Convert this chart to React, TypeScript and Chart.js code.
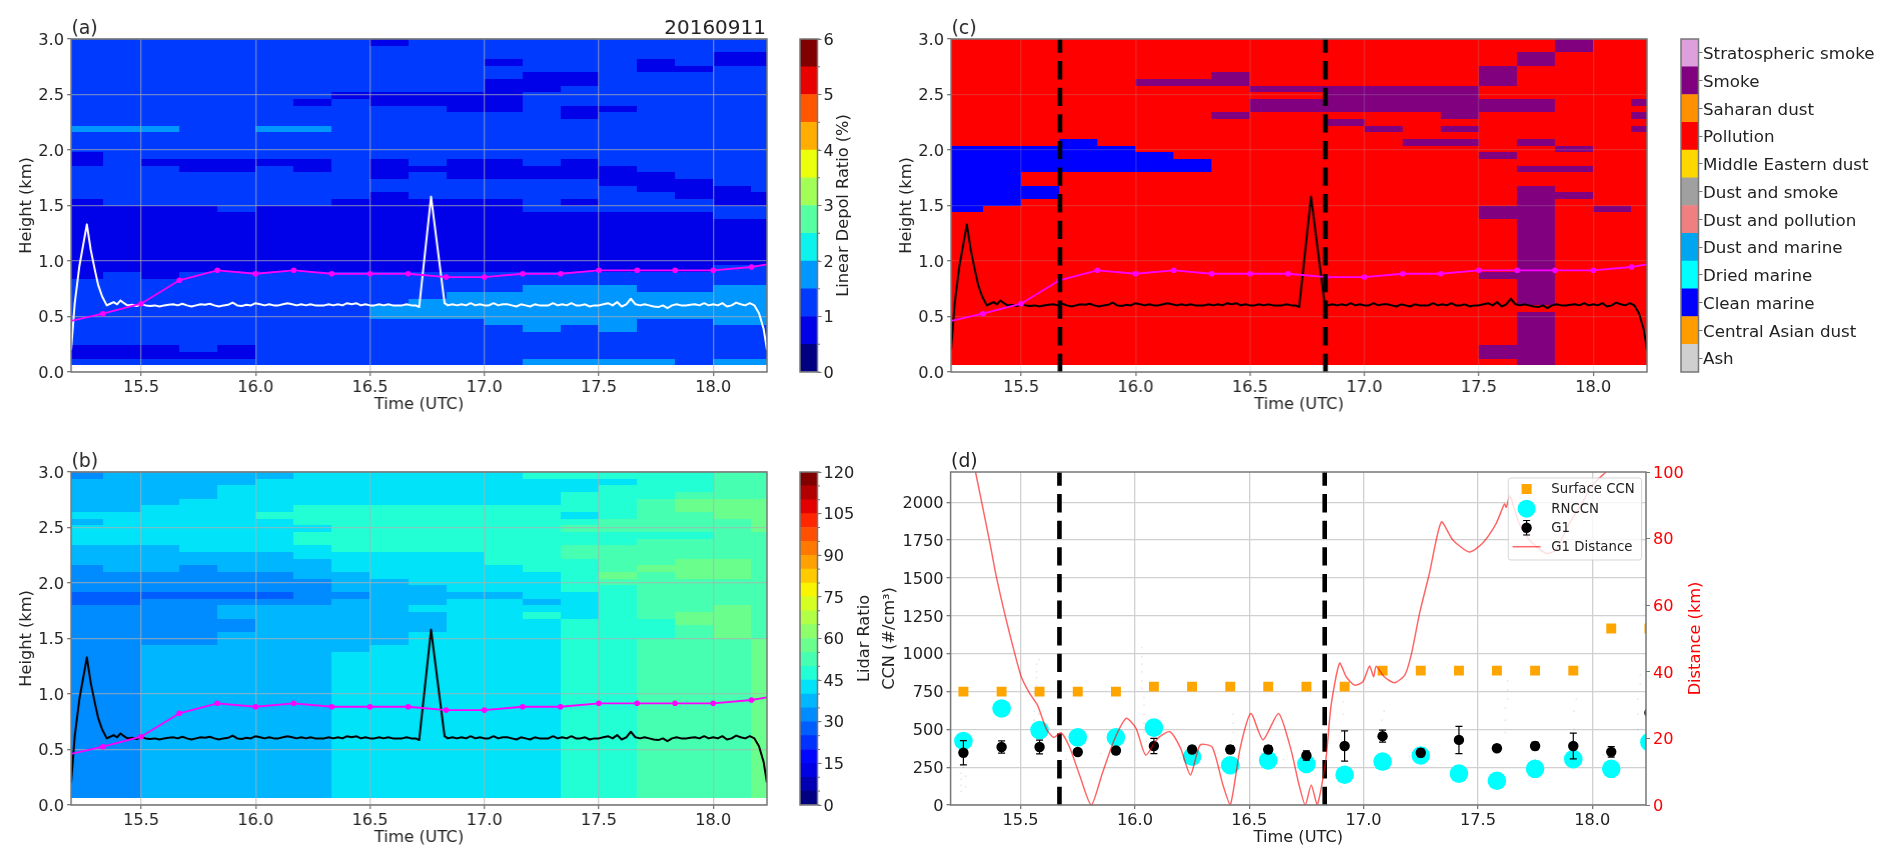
import { useEffect, useRef } from 'react';
import { Chart, registerables } from 'chart.js';
Chart.register(...registerables);

// ---------- shared values ----------
const columnEdges = [15.194, 15.333, 15.5, 15.667, 15.833, 16, 16.167, 16.333, 16.5, 16.667, 16.833, 17, 17.167, 17.333, 17.5, 17.667, 17.833, 18, 18.167, 18.235];
const timeTicks = [15.5, 16, 16.5, 17, 17.5, 18];
const heightTicks = [0, 0.5, 1, 1.5, 2, 2.5, 3];
const eventTimes = [15.67, 16.83];

const mixTime = [15.194, 15.333, 15.5, 15.667, 15.833, 16, 16.167, 16.333, 16.5, 16.667, 16.833, 17, 17.167, 17.333, 17.5, 17.667, 17.833, 18, 18.167, 18.235];
const mixHeight = [0.46, 0.525, 0.615, 0.826, 0.916, 0.885, 0.916, 0.885, 0.885, 0.885, 0.855, 0.855, 0.885, 0.885, 0.916, 0.916, 0.916, 0.916, 0.946, 0.97];

const pblTime = [
  15.194, 15.21, 15.23, 15.263, 15.28, 15.3, 15.313, 15.33, 15.35, 15.365,
  15.38, 15.395, 15.41, 15.425, 15.44, 15.46, 15.48, 15.5, 15.52, 15.54,
  15.56, 15.58, 15.6, 15.62, 15.64, 15.66, 15.68, 15.7, 15.72, 15.74,
  15.76, 15.78, 15.8, 15.82, 15.84, 15.86, 15.88, 15.9, 15.92, 15.94,
  15.96, 15.98, 16, 16.02, 16.04, 16.06, 16.08, 16.1, 16.12, 16.14,
  16.16, 16.18, 16.2, 16.22, 16.24, 16.26, 16.28, 16.3, 16.32, 16.34,
  16.36, 16.38, 16.4, 16.42, 16.44, 16.46, 16.48, 16.5, 16.52, 16.54,
  16.56, 16.58, 16.6, 16.62, 16.64, 16.66, 16.68, 16.7, 16.715, 16.767,
  16.826, 16.84, 16.86, 16.88, 16.9, 16.92, 16.94, 16.96, 16.98, 17,
  17.02, 17.04, 17.06, 17.08, 17.1, 17.12, 17.14, 17.16, 17.18, 17.2,
  17.22, 17.24, 17.26, 17.28, 17.3, 17.32, 17.34, 17.36, 17.38, 17.4,
  17.42, 17.44, 17.46, 17.48, 17.5, 17.52, 17.54, 17.56, 17.58, 17.6,
  17.62, 17.64, 17.66, 17.68, 17.7, 17.72, 17.74, 17.76, 17.78, 17.8,
  17.82, 17.84, 17.86, 17.88, 17.9, 17.92, 17.94, 17.96, 17.98, 18,
  18.02, 18.04, 18.06, 18.08, 18.1, 18.12, 18.14, 18.16, 18.18, 18.2,
  18.22, 18.235,
];
const pblHeight = [
  0.2, 0.62, 0.95, 1.33, 1.1, 0.9, 0.78, 0.68, 0.6, 0.615,
  0.63, 0.61, 0.645, 0.62, 0.6, 0.605, 0.595, 0.61, 0.6, 0.595,
  0.6, 0.59, 0.6, 0.605, 0.61, 0.6, 0.615, 0.6, 0.59, 0.6,
  0.61, 0.605, 0.615, 0.6, 0.59, 0.6, 0.605, 0.625, 0.6, 0.595,
  0.605, 0.6, 0.62, 0.61, 0.6, 0.61, 0.6, 0.6, 0.61, 0.62,
  0.61, 0.6, 0.61, 0.6, 0.61, 0.6, 0.6, 0.6, 0.61, 0.6,
  0.61, 0.6, 0.62, 0.61, 0.62, 0.6, 0.61, 0.6, 0.6, 0.61,
  0.6, 0.61, 0.6, 0.6, 0.6, 0.61, 0.6, 0.6, 0.585, 1.58,
  0.62, 0.6, 0.61, 0.6, 0.61, 0.6, 0.62, 0.6, 0.61, 0.6,
  0.6, 0.62, 0.6, 0.61, 0.61, 0.6, 0.59, 0.61, 0.6, 0.59,
  0.61, 0.6, 0.6, 0.6, 0.62, 0.6, 0.61, 0.6, 0.62, 0.6,
  0.6, 0.61, 0.59, 0.6, 0.6, 0.61, 0.62, 0.6, 0.63, 0.59,
  0.61, 0.66, 0.61, 0.6, 0.61, 0.6, 0.59, 0.585, 0.6, 0.575,
  0.6, 0.61, 0.6, 0.6, 0.605, 0.61, 0.6, 0.62, 0.6, 0.61,
  0.6, 0.62, 0.59, 0.6, 0.625, 0.61, 0.6, 0.62, 0.6, 0.53,
  0.39, 0.2,
];

// ---------- panel (a) linear depolarisation ratio: [firstCol, endCol, low km, high km, colour level] ----------
const depolBaseLevel = 2;
const depolPatches = [
  [0, 1, 0.84, 1.56, 1], [1, 2, 0.9, 1.5, 1], [2, 3, 0.84, 1.5, 1], [3, 4, 0.9, 1.5, 1], [4, 5, 0.9, 1.44, 1],
  [5, 7, 0.9, 1.5, 1], [7, 8, 0.9, 1.56, 1], [8, 9, 0.9, 1.62, 1], [9, 12, 0.9, 1.56, 1], [12, 13, 0.9, 1.44, 1],
  [13, 14, 0.9, 1.44, 1], [13, 14, 1.5, 1.56, 1], [14, 17, 0.9, 1.44, 1], [17, 19, 0.96, 1.38, 1],
  [0, 3, 2.16, 2.22, 3], [5, 7, 2.16, 2.22, 3],
  [6, 7, 2.4, 2.46, 1], [7, 8, 2.46, 2.52, 1], [8, 10, 2.4, 2.52, 1], [10, 11, 2.34, 2.52, 1], [11, 12, 2.34, 2.64, 1],
  [12, 13, 2.52, 2.7, 1], [13, 14, 2.58, 2.7, 1], [8, 9, 2.94, 3, 1], [11, 12, 2.76, 2.82, 1],
  [15, 16, 2.7, 2.82, 1], [16, 17, 2.7, 2.76, 1], [17, 19, 2.76, 2.88, 1], [13, 14, 2.28, 2.4, 1], [14, 15, 2.34, 2.4, 1],
  [0, 1, 1.86, 1.98, 1], [2, 3, 1.86, 1.92, 1], [3, 5, 1.8, 1.92, 1], [5, 6, 1.86, 1.92, 1], [6, 7, 1.8, 1.92, 1],
  [8, 9, 1.74, 1.92, 1], [9, 10, 1.8, 1.86, 1], [10, 12, 1.74, 1.92, 1], [12, 13, 1.74, 1.86, 1], [13, 14, 1.74, 1.92, 1],
  [14, 15, 1.68, 1.86, 1], [15, 16, 1.62, 1.8, 1], [16, 17, 1.56, 1.74, 1], [17, 18, 1.5, 1.68, 1], [18, 19, 1.5, 1.62, 1],
  [8, 9, 0.48, 0.6, 3], [9, 10, 0.48, 0.66, 3], [10, 11, 0.48, 0.72, 3], [11, 12, 0.42, 0.72, 3], [12, 13, 0.36, 0.78, 3],
  [13, 14, 0.42, 0.78, 3], [14, 15, 0.36, 0.78, 3], [15, 17, 0.48, 0.72, 3], [17, 19, 0.42, 0.78, 3],
  [0, 3, 0.12, 0.24, 1], [3, 4, 0.12, 0.18, 1], [4, 5, 0.12, 0.24, 1],
  [12, 16, 0.06, 0.12, 3], [17, 19, 0.06, 0.12, 3],
];

// ---------- panel (b) lidar ratio: one list per column of [low km, high km, colour bin] ----------
const lidarColumns = [
  [[0.06, 1.8, 6], [1.8, 1.92, 5], [1.92, 2.16, 6], [2.16, 2.34, 7], [2.34, 2.52, 8], [2.52, 2.58, 7], [2.58, 2.64, 8], [2.64, 2.94, 7], [2.94, 3, 6]],
  [[0.06, 1.8, 6], [1.8, 1.92, 5], [1.92, 2.1, 6], [2.1, 2.34, 7], [2.34, 2.64, 8], [2.64, 3, 7]],
  [[0.06, 1.44, 7], [1.44, 1.86, 6], [1.86, 1.92, 5], [1.92, 2.1, 6], [2.1, 2.34, 7], [2.34, 2.7, 8], [2.7, 3, 7]],
  [[0.06, 1.44, 7], [1.44, 1.86, 6], [1.86, 1.92, 5], [1.92, 2.16, 6], [2.16, 2.28, 7], [2.28, 2.76, 8], [2.76, 3, 7]],
  [[0.06, 1.56, 7], [1.56, 1.68, 6], [1.68, 1.8, 7], [1.8, 1.86, 6], [1.86, 1.92, 5], [1.92, 2.1, 6], [2.1, 2.28, 7], [2.28, 2.88, 8], [2.88, 3, 7]],
  [[0.06, 1.8, 7], [1.8, 1.86, 6], [1.86, 1.92, 5], [1.92, 2.1, 6], [2.1, 2.28, 7], [2.28, 2.58, 8], [2.58, 2.64, 9], [2.64, 2.94, 8], [2.94, 3, 7]],
  [[0.06, 1.8, 7], [1.8, 2.04, 6], [2.04, 2.22, 7], [2.22, 2.34, 8], [2.34, 2.46, 9], [2.46, 2.52, 8], [2.52, 2.7, 9], [2.7, 3, 8]],
  [[0.06, 1.38, 8], [1.38, 1.86, 7], [1.86, 1.92, 6], [1.92, 2.1, 7], [2.1, 2.28, 8], [2.28, 2.7, 9], [2.7, 3, 8]],
  [[0.06, 1.44, 8], [1.44, 2.04, 7], [2.04, 2.28, 8], [2.28, 2.7, 9], [2.7, 3, 8]],
  [[0.06, 1.56, 8], [1.56, 1.74, 7], [1.74, 1.8, 8], [1.8, 1.98, 7], [1.98, 2.28, 8], [2.28, 2.7, 9], [2.7, 3, 8]],
  [[0.06, 1.86, 8], [1.86, 1.92, 7], [1.92, 2.28, 8], [2.28, 2.7, 9], [2.7, 3, 8]],
  [[0.06, 1.86, 8], [1.86, 1.92, 7], [1.92, 2.16, 8], [2.16, 2.7, 9], [2.7, 3, 8]],
  [[0.06, 1.68, 8], [1.68, 1.74, 9], [1.74, 1.8, 8], [1.8, 1.86, 7], [1.86, 2.1, 8], [2.1, 2.7, 9], [2.7, 2.94, 8], [2.94, 3, 9]],
  [[0.06, 1.68, 9], [1.68, 1.92, 8], [1.92, 2.22, 9], [2.22, 2.34, 10], [2.34, 2.46, 9], [2.46, 2.52, 10], [2.52, 2.58, 9], [2.58, 2.64, 8], [2.64, 2.82, 9], [2.82, 2.94, 8], [2.94, 3, 9]],
  [[0.06, 1.98, 9], [1.98, 2.04, 10], [2.04, 2.1, 11], [2.1, 2.34, 10], [2.34, 2.46, 9], [2.46, 2.58, 10], [2.58, 2.88, 9], [2.88, 2.94, 8], [2.94, 3, 9]],
  [[0.06, 1.5, 10], [1.5, 1.68, 9], [1.68, 2.1, 10], [2.1, 2.16, 11], [2.16, 2.4, 10], [2.4, 2.46, 9], [2.46, 2.76, 10], [2.76, 3, 9]],
  [[0.06, 1.62, 10], [1.62, 1.74, 11], [1.74, 2.04, 10], [2.04, 2.22, 11], [2.22, 2.4, 10], [2.4, 2.46, 9], [2.46, 2.64, 10], [2.64, 2.76, 11], [2.76, 2.82, 10], [2.82, 3, 9]],
  [[0.06, 1.5, 10], [1.5, 1.8, 11], [1.8, 2.04, 10], [2.04, 2.22, 11], [2.22, 2.58, 10], [2.58, 2.76, 11], [2.76, 3, 10]],
  [[0.06, 1.5, 11], [1.5, 2.46, 10], [2.46, 2.76, 11], [2.76, 3, 10]],
];

// ---------- panel (c) aerosol classes: [firstCol, endCol, low km, high km, class index] ----------
const classLabels = ['Ash', 'Central Asian dust', 'Clean marine', 'Dried marine', 'Dust and marine', 'Dust and pollution', 'Dust and smoke', 'Middle Eastern dust', 'Pollution', 'Saharan dust', 'Smoke', 'Stratospheric smoke'];
const classColors = ['#cfcfcf', '#ff9d00', '#0000ff', '#00ffff', '#00a5f0', '#f08080', '#a0a0a0', '#ffd700', '#ff0000', '#ff9000', '#800080', '#dda0dd'];
const classBase = 8;
const classPatches = [
  [0, 1, 1.44, 2.04, 2], [1, 2, 1.5, 2.04, 2], [2, 3, 1.8, 2.04, 2], [2, 3, 1.56, 1.68, 2], [3, 4, 1.8, 2.1, 2], [4, 5, 1.8, 2.04, 2], [5, 6, 1.8, 1.98, 2], [6, 7, 1.8, 1.92, 2],
  [5, 7, 2.58, 2.64, 10], [7, 8, 2.58, 2.7, 10], [7, 8, 2.28, 2.34, 10], [8, 10, 2.52, 2.58, 10], [8, 10, 2.34, 2.46, 10],
  [10, 13, 2.34, 2.58, 10], [13, 14, 2.28, 2.58, 10], [10, 11, 2.22, 2.28, 10], [11, 12, 2.16, 2.22, 10], [13, 14, 2.16, 2.22, 10], [12, 14, 2.04, 2.1, 10],
  [14, 15, 2.58, 2.76, 10], [14, 16, 2.34, 2.46, 10], [14, 15, 1.92, 1.98, 10], [14, 15, 1.38, 1.5, 10], [14, 15, 0.84, 0.9, 10], [14, 15, 0.12, 0.24, 10],
  [15, 16, 2.76, 2.88, 10], [15, 16, 2.04, 2.1, 10], [15, 17, 1.8, 1.86, 10], [15, 16, 0.6, 1.68, 10], [15, 16, 0.06, 0.54, 10],
  [16, 17, 2.88, 3, 10], [16, 17, 1.98, 2.04, 10], [16, 17, 1.56, 1.62, 10], [17, 18, 1.44, 1.5, 10],
  [18, 19, 2.4, 2.46, 10], [18, 19, 2.28, 2.34, 10], [18, 19, 2.16, 2.22, 10],
];

// ---------- panel (d) CCN ----------
const ccnTicks = [0, 250, 500, 750, 1000, 1250, 1500, 1750, 2000];
const distanceTicks = [0, 20, 40, 60, 80, 100];
const sampleTime = [15.25, 15.417, 15.583, 15.75, 15.917, 16.083, 16.25, 16.417, 16.583, 16.75, 16.917, 17.083, 17.25, 17.417, 17.583, 17.75, 17.917, 18.083, 18.25];
const surfaceCcn = [749, 749, 749, 749, 749, 782, 782, 782, 782, 782, 782, 888, 888, 888, 888, 888, 888, 1166, 1166];
const rnCcn = [423, 638, 495, 447, 447, 511, 319, 263, 295, 271, 200, 287, 327, 207, 160, 239, 303, 239, 415];
const g1Ccn = [345, 383, 383, 350, 360, 390, 367, 367, 367, 327, 390, 455, 345, 430, 375, 390, 390, 351, 610];
const g1Err = [80, 40, 45, 15, 20, 50, 20, 25, 25, 30, 100, 40, 25, 90, 20, 25, 85, 35, 40];
const distanceTime = [15.303, 15.365, 15.394, 15.434, 15.474, 15.503, 15.539, 15.574, 15.613, 15.645, 15.677, 15.714, 15.756, 15.809, 15.857, 15.91, 15.962, 16.005, 16.047, 16.1, 16.153, 16.2, 16.243, 16.285, 16.338, 16.385, 16.417, 16.46, 16.507, 16.56, 16.628, 16.681, 16.718, 16.745, 16.771, 16.797, 16.834, 16.858, 16.895, 16.924, 16.96, 16.997, 17.026, 17.044, 17.055, 17.09, 17.135, 17.18, 17.208, 17.245, 17.288, 17.34, 17.39, 17.463, 17.52, 17.58, 17.616, 17.624, 17.64, 17.68, 17.725, 17.797, 17.84, 17.9, 17.95, 18, 18.06];
const distanceKm = [100, 79, 68.6, 56.5, 45.6, 38.5, 33.6, 30, 22.8, 20.3, 21.7, 17.4, 9.4, 0, 9.4, 19.6, 26, 23, 15, 20, 22, 17, 9, 18, 17.4, 6, 0, 17, 27.5, 19.6, 27.5, 17, 6, 0, 6, 0, 13, 30, 42.6, 38.5, 36, 37, 41.7, 38.5, 41.7, 38.5, 36.7, 39, 45, 57.6, 69.6, 85, 79.6, 76, 78.6, 84.6, 90.4, 89.4, 92.8, 84.6, 79.6, 75.6, 76.6, 84.6, 90, 96, 100];
const rawTime = [15.24, 15.24, 15.24, 15.24, 15.25, 15.25, 15.26, 15.26, 15.56, 15.56, 15.56, 15.56, 15.57, 15.57, 15.57, 15.57, 15.58, 15.58, 15.58, 16.03, 16.03, 16.03, 16.03, 16.03, 16.03, 16.04, 16.04, 16.04, 16.04, 16.04, 16.05, 16.05, 16.42, 16.42, 16.42, 16.43, 16.43, 16.43, 16.9, 16.9, 16.9, 16.91, 16.91, 17.08, 17.08, 17.09, 17.62, 17.62, 17.62, 17.63, 17.63, 17.63, 17.92, 17.92, 17.93, 18.2, 18.2, 18.2, 18.21, 18.21, 15.7, 15.85, 16.2, 16.65, 17.2, 17.4, 17.75, 18.05];
const rawCcn = [90, 130, 170, 210, 250, 300, 120, 190, 560, 620, 690, 740, 790, 840, 880, 930, 960, 520, 600, 1040, 980, 930, 880, 820, 770, 710, 660, 600, 540, 480, 500, 420, 300, 360, 420, 480, 540, 600, 120, 240, 480, 600, 680, 500, 560, 620, 480, 560, 640, 700, 760, 820, 500, 620, 700, 500, 600, 700, 800, 860, 300, 340, 310, 300, 320, 340, 300, 330];

// ---------- colour bars ----------
const depolLevels = [0, 0.5, 1, 1.5, 2, 2.5, 3, 3.5, 4, 4.5, 5, 5.5, 6];
const depolBarTicks = [1, 2, 3, 4, 5, 6, 0];
const lidarLevels = [0, 5, 10, 15, 20, 25, 30, 35, 40, 45, 50, 55, 60, 65, 70, 75, 80, 85, 90, 95, 100, 105, 110, 115, 120];
const lidarBarTicks = [0, 15, 30, 45, 60, 75, 90, 105, 120];
const classEdges = [0, 1, 2, 3, 4, 5, 6, 7, 8, 9, 10, 11, 12];
const classTicks = [0.5, 1.5, 2.5, 3.5, 4.5, 5.5, 6.5, 7.5, 8.5, 9.5, 10.5, 11.5];

// ---------- styles ----------
const FONT = '"DejaVu Sans"';
const INK = '#222222';
const SPINE = '#777777';
const SIZE = 16.2;
const jet = (t: number) => {
  const r = t < 0.35 ? 0 : t < 0.66 ? (t - 0.35) / 0.31 : t < 0.89 ? 1 : 1 - (0.5 * (t - 0.89)) / 0.11;
  const g = t < 0.125 ? 0 : t < 0.375 ? (t - 0.125) / 0.25 : t < 0.64 ? 1 : t < 0.91 ? 1 - (t - 0.64) / 0.27 : 0;
  const b = t < 0.11 ? 0.5 + (0.5 * t) / 0.11 : t < 0.34 ? 1 : t < 0.65 ? 1 - (t - 0.34) / 0.31 : 0;
  return `rgb(${Math.round(255 * r)},${Math.round(255 * g)},${Math.round(255 * b)})`;
};
const depolColors = depolLevels.slice(1).map((_, i) => jet(i / 11));
const lidarColors = lidarLevels.slice(1).map((_, i) => jet(i / 23));

type Cell = [number, number, number, number, string];
const depolCells: Cell[] = [[0, 19, 0.06, 3, depolColors[depolBaseLevel]] as Cell].concat(
  depolPatches.map((p) => [p[0], p[1], p[2], p[3], depolColors[p[4]]] as Cell));
const classCells: Cell[] = [[0, 19, 0.06, 3, classColors[classBase]] as Cell].concat(
  classPatches.map((p) => [p[0], p[1], p[2], p[3], classColors[p[4]]] as Cell));
const lidarCells: Cell[] = [];
lidarColumns.forEach((col, i) => col.forEach((s) => lidarCells.push([i, i + 1, s[0], s[1], lidarColors[s[2]]])));

const heatPlugin = (cells: Cell[]) => ({
  id: 'heat',
  beforeDraw(chart: any) {
    const { ctx, chartArea: a, scales: { x, y } } = chart;
    ctx.save();
    ctx.beginPath();
    ctx.rect(a.left, a.top, a.width, a.height);
    ctx.clip();
    cells.forEach(([c0, c1, lo, hi, color]) => {
      const l = Math.round(x.getPixelForValue(columnEdges[c0]));
      const r = Math.round(x.getPixelForValue(columnEdges[c1]));
      const t = Math.round(y.getPixelForValue(hi));
      const b = Math.round(y.getPixelForValue(lo));
      ctx.fillStyle = color;
      ctx.fillRect(l, t, r - l, b - t);
    });
    ctx.restore();
  },
});

const framePlugin = (tag?: string, rightTag?: string) => ({
  id: 'frame',
  afterDatasetsDraw(chart: any) {
    const { ctx, chartArea: a } = chart;
    ctx.save();
    ctx.strokeStyle = SPINE;
    ctx.lineWidth = 1.5;
    ctx.strokeRect(a.left, a.top, a.width, a.height);
    ctx.fillStyle = INK;
    ctx.textBaseline = 'alphabetic';
    ctx.font = `18.8px ${FONT}`;
    if (tag) { ctx.textAlign = 'left'; ctx.fillText(tag, a.left + 0.5, a.top - 5.5); }
    ctx.font = `20px ${FONT}`;
    if (rightTag) { ctx.textAlign = 'right'; ctx.fillText(rightTag, a.right - 1, a.top - 5.5); }
    ctx.restore();
  },
});

const sideTitlePlugin = (text: string, xOffset: number, color: string) => ({
  id: 'sideTitle',
  afterDraw(chart: any) {
    const { ctx, chartArea: a } = chart;
    ctx.save();
    ctx.translate(a.right + xOffset, (a.top + a.bottom) / 2);
    ctx.rotate(-Math.PI / 2);
    ctx.textAlign = 'center';
    ctx.textBaseline = 'middle';
    ctx.fillStyle = color;
    ctx.font = `${SIZE}px ${FONT}`;
    ctx.fillText(text, 0, 0);
    ctx.restore();
  },
});

const minorTickPlugin = (values: number[]) => ({
  id: 'minorTicks',
  afterDraw(chart: any) {
    const { ctx, chartArea: a, scales: { y } } = chart;
    ctx.save();
    ctx.strokeStyle = SPINE;
    ctx.lineWidth = 1;
    values.forEach((v) => {
      const p = y.getPixelForValue(v);
      ctx.beginPath();
      ctx.moveTo(a.right, p);
      ctx.lineTo(a.right + 2.5, p);
      ctx.stroke();
    });
    ctx.restore();
  },
});

const errorPlugin = {
  id: 'errors',
  afterDatasetsDraw(chart: any) {
    const { ctx, chartArea: a, scales: { x, y } } = chart;
    ctx.save();
    ctx.beginPath();
    ctx.rect(a.left, a.top, a.width, a.height);
    ctx.clip();
    ctx.strokeStyle = '#000';
    ctx.lineWidth = 1.2;
    sampleTime.forEach((t, i) => {
      const px = x.getPixelForValue(t);
      const top = y.getPixelForValue(g1Ccn[i] + g1Err[i]);
      const bot = y.getPixelForValue(g1Ccn[i] - g1Err[i]);
      ctx.beginPath();
      ctx.moveTo(px, top); ctx.lineTo(px, bot);
      ctx.moveTo(px - 3.5, top); ctx.lineTo(px + 3.5, top);
      ctx.moveTo(px - 3.5, bot); ctx.lineTo(px + 3.5, bot);
      ctx.stroke();
    });
    ctx.restore();
  },
};

const legendPlugin = {
  id: 'boxLegend',
  afterDraw(chart: any) {
    const { ctx, chartArea: a } = chart;
    const L = a.left + 557.7, T = a.top + 6, W = 133.3, H = 82;
    const mx = L + 18.3, tx = L + 43;
    ctx.save();
    ctx.globalAlpha = 0.8;
    ctx.fillStyle = '#fff';
    ctx.strokeStyle = '#cccccc';
    ctx.lineWidth = 1;
    ctx.beginPath();
    ctx.roundRect(L, T, W, H, 2.5);
    ctx.fill();
    ctx.stroke();
    ctx.globalAlpha = 1;
    ctx.fillStyle = '#ffa500';
    ctx.fillRect(mx - 5, T + 11 - 5, 10, 10);
    ctx.fillStyle = '#00ffff';
    ctx.beginPath(); ctx.arc(mx, T + 30.7, 9, 0, Math.PI * 2); ctx.fill();
    ctx.fillStyle = '#000';
    ctx.beginPath(); ctx.arc(mx, T + 49.7, 5.2, 0, Math.PI * 2); ctx.fill();
    ctx.strokeStyle = '#000';
    ctx.lineWidth = 1.2;
    ctx.beginPath();
    ctx.moveTo(mx, T + 42.5); ctx.lineTo(mx, T + 57);
    ctx.moveTo(mx - 3.5, T + 42.5); ctx.lineTo(mx + 3.5, T + 42.5);
    ctx.moveTo(mx - 3.5, T + 57); ctx.lineTo(mx + 3.5, T + 57);
    ctx.stroke();
    ctx.strokeStyle = 'rgba(255,0,0,0.6)';
    ctx.lineWidth = 1.5;
    ctx.beginPath(); ctx.moveTo(L + 4.3, T + 68.7); ctx.lineTo(L + 32.3, T + 68.7); ctx.stroke();
    ctx.fillStyle = INK;
    ctx.font = `13.3px ${FONT}`;
    ctx.textAlign = 'left';
    ctx.textBaseline = 'middle';
    ['Surface CCN', 'RNCCN', 'G1', 'G1 Distance'].forEach((s, i) => ctx.fillText(s, tx, T + 12 + i * 19.2));
    ctx.restore();
  },
};

// ---------- config helpers ----------
const PLOT_W = 695.5, PLOT_H = 333;
const Y_W = 54, TOP_PAD = 28, X_H = 43;
const LABEL_DROP = 1.5;
const xy = (xs: number[], ys: number[]) => xs.map((x, i) => ({ x, y: ys[i] }));

const xAxis = (gridColor: string) => ({
  type: 'linear', min: 15.194, max: 18.235,
  afterBuildTicks: (s: any) => { s.ticks = timeTicks.map((value) => ({ value })); },
  afterFit: (s: any) => { s.height = X_H; },
  grid: { color: gridColor, lineWidth: 1.3, tickColor: SPINE, tickLength: 4 },
  border: { display: false },
  ticks: { color: INK, font: { family: FONT, size: SIZE }, padding: 2.5, maxRotation: 0, autoSkip: false, callback: (v: number) => v.toFixed(1) },
  title: { display: true, text: 'Time (UTC)', color: INK, font: { family: FONT, size: SIZE }, padding: 0 },
});
const yAxis = (opts: any) => ({
  type: 'linear', position: 'left', min: opts.min, max: opts.max,
  afterBuildTicks: (s: any) => { s.ticks = opts.ticks.map((value: number) => ({ value })); },
  afterFit: (s: any) => { s.width = opts.width; },
  grid: { color: opts.grid, lineWidth: 1.3, tickColor: SPINE, tickLength: 4 },
  border: { display: false },
  ticks: { color: INK, font: { family: FONT, size: SIZE }, padding: 3, labelOffset: LABEL_DROP, autoSkip: false, callback: opts.label },
  title: { display: true, text: opts.title, color: INK, font: { family: FONT, size: SIZE }, padding: 0 },
});
const baseOptions = (layoutRight: number, layoutLeft = 0) => ({
  responsive: false, animation: false, events: [],
  layout: { padding: { top: TOP_PAD, right: layoutRight, bottom: 0, left: layoutLeft } },
  plugins: { legend: { display: false }, title: { display: false }, tooltip: { enabled: false } },
});

const profileSets = (pblColor: string) => [
  { label: 'Mixing height', data: xy(mixTime, mixHeight), showLine: true, borderColor: '#ff00ff', backgroundColor: '#ff00ff', borderWidth: 1.8, pointRadius: mixTime.map((_, i) => (i === 0 || i === mixTime.length - 1 ? 0 : 2.8)), pointBorderWidth: 0, order: 1, clip: 0 },
  { label: 'PBL height', data: xy(pblTime, pblHeight), showLine: true, borderColor: pblColor, borderWidth: 2, borderJoinStyle: 'round', pointRadius: 0, order: 2, clip: 0 },
];
const eventSet = (t: number, top: number, axis = 'y') => ({
  label: 'Event', data: [{ x: t, y: 0 }, { x: t, y: top }], showLine: true, yAxisID: axis,
  borderColor: '#000', borderWidth: 4.6, borderDash: [18.3, 8.3], pointRadius: 0, order: 0, clip: 0,
});

const heightAxis = (grid: string) => yAxis({ min: 0, max: 3, ticks: heightTicks, width: Y_W, grid, title: 'Height (km)', label: (v: number) => v.toFixed(1) });

const panelA = () => ({
  type: 'scatter',
  data: { datasets: profileSets('#ffffff') },
  options: { ...baseOptions(10), scales: { x: xAxis('rgba(176,176,176,0.6)'), y: heightAxis('rgba(176,176,176,0.6)') } },
  plugins: [heatPlugin(depolCells), framePlugin('(a)', '20160911')],
});
const panelB = () => ({
  type: 'scatter',
  data: { datasets: profileSets('#000000') },
  options: { ...baseOptions(10), scales: { x: xAxis('rgba(176,176,176,0.65)'), y: heightAxis('rgba(176,176,176,0.65)') } },
  plugins: [heatPlugin(lidarCells), framePlugin('(b)')],
});
const panelC = () => ({
  type: 'scatter',
  data: { datasets: [...profileSets('#000000'), ...eventTimes.map((t) => eventSet(t, 3))] },
  options: { ...baseOptions(10), scales: { x: xAxis('rgba(176,176,176,0.22)'), y: heightAxis('rgba(176,176,176,0.22)') } },
  plugins: [heatPlugin(classCells), framePlugin('(c)')],
});
const D_LEFT_W = 70.6, D_RIGHT_W = 40, D_RIGHT_PAD = 30;
const panelD = () => ({
  type: 'scatter',
  data: {
    datasets: [
      { label: 'G1 Distance', data: xy(distanceTime, distanceKm), yAxisID: 'y1', showLine: true, borderColor: 'rgba(255,0,0,0.6)', borderWidth: 1.5, pointRadius: 0, tension: 0.22, order: -1, clip: 0 },
      ...eventTimes.map((t) => ({ ...eventSet(t, 100, 'y1'), order: 0 })),
      { label: 'G1', data: xy(sampleTime, g1Ccn), backgroundColor: '#000', pointRadius: 5.2, pointBorderWidth: 0, order: 2, clip: 0 },
      { label: 'RNCCN', data: xy(sampleTime, rnCcn), backgroundColor: '#00ffff', pointRadius: 9.3, pointBorderWidth: 0, order: 3, clip: 0 },
      { label: 'Surface CCN', data: xy(sampleTime, surfaceCcn), backgroundColor: '#ffa500', pointStyle: 'rect', pointRadius: 7, pointBorderWidth: 0, order: 4, clip: 0 },
      { label: 'Raw CCN', data: xy(rawTime, rawCcn), backgroundColor: 'rgba(120,120,120,0.18)', pointRadius: 0.9, pointBorderWidth: 0, order: 5, clip: 0 },
    ],
  },
  options: {
    ...baseOptions(D_RIGHT_PAD),
    scales: {
      x: xAxis('#d0d0d0'),
      y: yAxis({ min: 0, max: 2200, ticks: ccnTicks, width: D_LEFT_W, grid: '#d0d0d0', title: 'CCN (#/cm³)', label: (v: number) => String(v) }),
      y1: {
        type: 'linear', position: 'right', min: 0, max: 100,
        afterBuildTicks: (s: any) => { s.ticks = distanceTicks.map((value) => ({ value })); },
        afterFit: (s: any) => { s.width = D_RIGHT_W; },
        grid: { drawOnChartArea: false, tickColor: SPINE, tickLength: 4 },
        border: { display: false },
        ticks: { color: '#ff0000', font: { family: FONT, size: SIZE }, padding: 3, labelOffset: LABEL_DROP, autoSkip: false, callback: (v: number) => String(v) },
      },
    },
  },
  plugins: [framePlugin('(d)'), errorPlugin, legendPlugin, sideTitlePlugin('Distance (km)', 49.5, '#ff0000')],
});

const barSets = (levels: number[], colors: string[]) => colors.map((c, i) => ({
  data: [[levels[i], levels[i + 1]]], backgroundColor: c, barPercentage: 1, categoryPercentage: 1, grouped: false, borderWidth: 0,
}));
const BAR_W = 17.5, BAR_PAD = 2;
const colorbar = (levels: number[], colors: string[], max: number, ticks: number[], label: (v: number) => string, axisW: number, canvasW: number, extra: any[], size = SIZE, pad = 2, drop = LABEL_DROP) => ({
  type: 'bar',
  data: { labels: [''], datasets: barSets(levels, colors) },
  options: {
    responsive: false, animation: false, events: [],
    layout: { padding: { top: TOP_PAD, right: canvasW - BAR_PAD - BAR_W - axisW, bottom: 15, left: BAR_PAD } },
    plugins: { legend: { display: false }, title: { display: false }, tooltip: { enabled: false } },
    scales: {
      x: { display: false },
      y: {
        type: 'linear', position: 'right', min: 0, max,
        afterBuildTicks: (s: any) => { s.ticks = ticks.map((value) => ({ value })); },
        afterFit: (s: any) => { s.width = axisW; },
        grid: { drawOnChartArea: false, tickColor: SPINE, tickLength: 4 },
        border: { display: false },
        ticks: { color: INK, font: { family: FONT, size }, padding: pad, labelOffset: drop, autoSkip: false, callback: label },
      },
    },
  },
  plugins: [framePlugin(), ...extra],
});
const depolBar = () => colorbar(depolLevels, depolColors, 6, depolBarTicks, (v) => String(v), 30, 110, [minorTickPlugin(depolLevels), sideTitlePlugin('Linear Depol Ratio (%)', 26.5, INK)]);
const lidarBar = () => colorbar(lidarLevels, lidarColors, 120, lidarBarTicks, (v) => String(v), 42, 110, [minorTickPlugin(lidarLevels), sideTitlePlugin('Lidar Ratio', 47.7, INK)]);
const classBar = () => colorbar(classEdges, classColors, 12, classTicks, (v) => classLabels[Math.floor(v)], 190, 212, [], 16.7, 0.5, 2);

// ---------- components ----------
function Plot({ left, top, width, height, make }: { left: number; top: number; width: number; height: number; make: () => any }) {
  const ref = useRef<HTMLCanvasElement | null>(null);
  useEffect(() => {
    const chart = new Chart(ref.current as HTMLCanvasElement, make());
    return () => chart.destroy();
  }, []);
  return <canvas ref={ref} width={width} height={height} style={{ position: 'absolute', left, top, width, height, display: 'block' }} />;
}

export default function App() {
  const panelH = TOP_PAD + PLOT_H + X_H;
  const colorH = TOP_PAD + PLOT_H + 15;
  return (
    <div style={{ position: 'absolute', left: 0, top: 0, width: 1892, height: 864, background: '#fff', overflow: 'hidden' }}>
      <Plot left={71 - Y_W} top={39 - TOP_PAD} width={Y_W + PLOT_W + 10} height={panelH} make={panelA} />
      <Plot left={71 - Y_W} top={472 - TOP_PAD} width={Y_W + PLOT_W + 10} height={panelH} make={panelB} />
      <Plot left={951 - Y_W} top={39 - TOP_PAD} width={Y_W + PLOT_W + 10} height={panelH} make={panelC} />
      <Plot left={951 - D_LEFT_W} top={472 - TOP_PAD} width={D_LEFT_W + PLOT_W + D_RIGHT_W + D_RIGHT_PAD} height={panelH} make={panelD} />
      <Plot left={800 - BAR_PAD} top={39 - TOP_PAD} width={110} height={colorH} make={depolBar} />
      <Plot left={800 - BAR_PAD} top={472 - TOP_PAD} width={110} height={colorH} make={lidarBar} />
      <Plot left={1681 - BAR_PAD} top={39 - TOP_PAD} width={212} height={colorH} make={classBar} />
    </div>
  );
}
